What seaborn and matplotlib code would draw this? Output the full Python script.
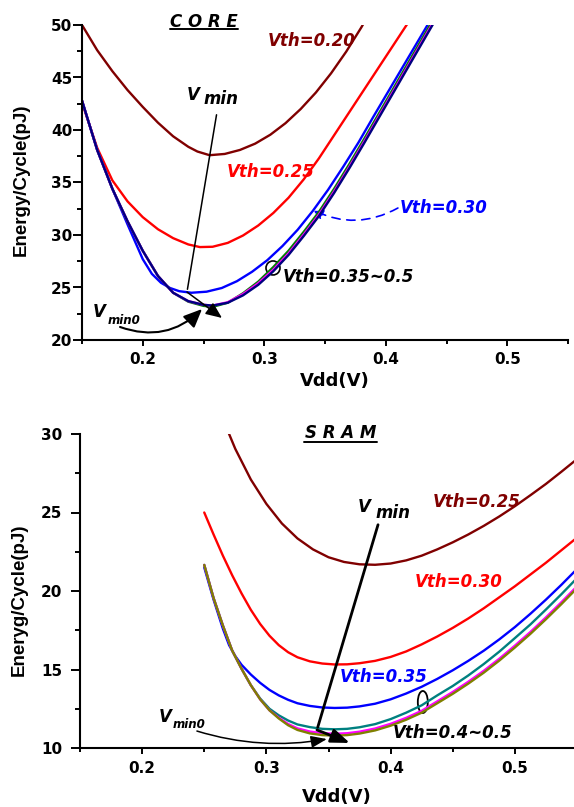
import pandas as pd
import matplotlib
matplotlib.use("Agg")
import matplotlib.pyplot as plt
import seaborn as sns
from matplotlib.patches import Ellipse, FancyArrowPatch
from matplotlib.lines import Line2D
from matplotlib.ticker import MultipleLocator, FormatStrFormatter

# ---------------- CORE: energy per cycle (pJ) vs supply voltage (V) ----------------
core_vdd_v20 = [0.150, 0.1625, 0.175, 0.1875, 0.200, 0.2125, 0.225, 0.2375, 0.245, 0.255,
                0.2675, 0.280, 0.2925, 0.305, 0.3175, 0.330, 0.3425, 0.355, 0.3675, 0.380,
                0.3925]
core_e_v20 = [50.0, 47.6, 45.6, 43.8, 42.2, 40.7, 39.4, 38.4, 37.95, 37.6,
              37.72, 38.1, 38.7, 39.55, 40.65, 42.0, 43.57, 45.4, 47.47, 49.79,
              52.35]

core_vdd_v25 = [0.150, 0.1625, 0.175, 0.1875, 0.200, 0.2125, 0.225, 0.2375, 0.247, 0.2575,
                0.270, 0.2825, 0.295, 0.3075, 0.320, 0.3325, 0.345, 0.3575, 0.370, 0.3825,
                0.395, 0.4075, 0.420]
core_e_v25 = [42.6, 38.3, 35.2, 33.2, 31.7, 30.55, 29.7, 29.1, 28.85, 28.88,
              29.25, 29.95, 30.9, 32.1, 33.55, 35.3, 37.3, 39.5, 41.7, 43.9,
              46.1, 48.3, 50.5]

core_vdd_v30 = [0.150, 0.1625, 0.175, 0.1875, 0.200, 0.2075, 0.215, 0.2225, 0.230, 0.240,
                0.2525, 0.265, 0.2775, 0.290, 0.3025, 0.315, 0.3275, 0.340, 0.3525, 0.365,
                0.3775, 0.390, 0.4025, 0.415, 0.4275, 0.440]
core_e_v30 = [42.8, 38.1, 34.4, 31.0, 27.7, 26.3, 25.45, 24.95, 24.65, 24.5,
              24.6, 24.95, 25.6, 26.5, 27.6, 28.95, 30.5, 32.3, 34.3, 36.5,
              38.8, 41.3, 43.75, 46.2, 48.65, 51.1]

core_vdd_hi = [0.150, 0.1625, 0.175, 0.1875, 0.200, 0.2125, 0.225, 0.2375, 0.250, 0.2575,
               0.270, 0.2825, 0.295, 0.3075, 0.320, 0.3325, 0.345, 0.3575, 0.370, 0.3825,
               0.395, 0.4075, 0.420, 0.4325, 0.445]
core_e_v35 = [42.8, 38.1, 34.4, 31.3, 28.5, 26.1, 24.5, 23.65, 23.25, 23.16,
              23.55, 24.45, 25.55, 26.95, 28.5, 30.3, 32.2, 34.4, 36.75, 39.2,
              41.7, 44.2, 46.7, 49.2, 51.7]
core_e_v40 = [42.8, 38.1, 34.4, 31.3, 28.5, 26.1, 24.5, 23.7, 23.35, 23.28,
              23.6, 24.38, 25.4, 26.7, 28.25, 30.05, 31.95, 34.15, 36.5, 38.95,
              41.45, 43.95, 46.45, 48.95, 51.45]
core_e_v50 = [42.8, 38.1, 34.4, 31.3, 28.5, 26.1, 24.5, 23.7, 23.35, 23.28,
              23.55, 24.25, 25.25, 26.55, 28.1, 29.9, 31.8, 34.0, 36.35, 38.8,
              41.3, 43.8, 46.3, 48.8, 51.3]

# ---------------- SRAM: energy per cycle (pJ) vs supply voltage (V) ----------------
sram_vdd_v25 = [0.265, 0.275, 0.2875, 0.300, 0.3125, 0.325, 0.3375, 0.350, 0.3625, 0.375,
                0.3875, 0.400, 0.4125, 0.425, 0.4375, 0.450, 0.4625, 0.475, 0.4875, 0.500,
                0.5125, 0.525, 0.5375, 0.550]
sram_e_v25 = [30.95, 29.05, 27.1, 25.55, 24.3, 23.35, 22.65, 22.15, 21.85, 21.7,
              21.67, 21.75, 21.95, 22.25, 22.65, 23.1, 23.6, 24.15, 24.75, 25.4,
              26.1, 26.82, 27.6, 28.4]

sram_vdd = [0.250, 0.2575, 0.265, 0.2725, 0.280, 0.2875, 0.295, 0.3025, 0.310, 0.3175,
            0.325, 0.335, 0.345, 0.355, 0.365, 0.375, 0.3875, 0.400, 0.4125, 0.425,
            0.4375, 0.450, 0.4625, 0.475, 0.4875, 0.500, 0.5125, 0.525, 0.5375, 0.550]
sram_e_v30 = [25.0, 23.6, 22.25, 21.0, 19.85, 18.8, 17.9, 17.15, 16.55, 16.1,
              15.78, 15.52, 15.38, 15.32, 15.33, 15.4, 15.55, 15.8, 16.15, 16.6,
              17.1, 17.65, 18.25, 18.9, 19.6, 20.3, 21.05, 21.8, 22.6, 23.4]
sram_e_v40 = [21.66, 19.55, 17.8, 16.2, 15.05, 14.0, 13.15, 12.5, 12.08, 11.75,
              11.5, 11.33, 11.22, 11.19, 11.22, 11.32, 11.52, 11.84, 12.25, 12.72,
              13.35, 13.95, 14.62, 15.35, 16.14, 17.0, 17.87, 18.82, 19.8, 20.82]
sram_e_v45 = [21.66, 19.55, 17.8, 16.2, 15.05, 14.0, 13.1, 12.4, 11.93, 11.53,
              11.25, 11.05, 10.94, 10.91, 10.94, 11.04, 11.24, 11.54, 11.92, 12.37,
              12.97, 13.57, 14.22, 14.92, 15.69, 16.52, 17.39, 18.32, 19.29, 20.3]
sram_e_v50 = [21.66, 19.55, 17.8, 16.2, 15.05, 14.0, 13.1, 12.4, 11.88, 11.45,
              11.15, 10.93, 10.82, 10.79, 10.82, 10.92, 11.12, 11.42, 11.8, 12.25,
              12.85, 13.45, 14.1, 14.8, 15.57, 16.4, 17.27, 18.2, 19.17, 20.18]

sram_vdd_v35 = [0.250, 0.2575, 0.265, 0.270, 0.275, 0.280, 0.2875, 0.295, 0.3025, 0.310,
                0.3175, 0.325, 0.335, 0.345, 0.355, 0.365, 0.375, 0.3875, 0.400, 0.4125,
                0.425, 0.4375, 0.450, 0.4625, 0.475, 0.4875, 0.500, 0.5125, 0.525, 0.5375,
                0.550]
sram_e_v35 = [21.5, 19.45, 17.6, 16.55, 15.85, 15.3, 14.68, 14.15, 13.7, 13.35,
              13.07, 12.85, 12.68, 12.58, 12.55, 12.57, 12.65, 12.82, 13.1, 13.47,
              13.9, 14.4, 14.95, 15.55, 16.2, 16.92, 17.7, 18.55, 19.45, 20.4,
              21.4]

core_series = {
    "0.20": (core_vdd_v20, core_e_v20),
    "0.25": (core_vdd_v25, core_e_v25),
    "0.30": (core_vdd_v30, core_e_v30),
    "0.35": (core_vdd_hi, core_e_v35),
    "0.40": (core_vdd_hi, core_e_v40),
    "0.50": (core_vdd_hi, core_e_v50),
}
core_colors = {"0.20": "#800000", "0.25": "#FF0000", "0.30": "#0000FF",
               "0.35": "#008000", "0.40": "#FF00FF", "0.50": "#000080"}

sram_series = {
    "0.25": (sram_vdd_v25, sram_e_v25),
    "0.30": (sram_vdd, sram_e_v30),
    "0.35": (sram_vdd_v35, sram_e_v35),
    "0.40": (sram_vdd, sram_e_v40),
    "0.45": (sram_vdd, sram_e_v45),
    "0.50": (sram_vdd, sram_e_v50),
}
sram_colors = {"0.25": "#800000", "0.30": "#FF0000", "0.35": "#0000FF",
               "0.40": "#008080", "0.45": "#FF00FF", "0.50": "#808000"}


def long_form(series):
    parts = [pd.DataFrame({"Vdd": x, "Energy": y, "Vth": name})
             for name, (x, y) in series.items()]
    return pd.concat(parts, ignore_index=True)


core_df = long_form(core_series)
sram_df = long_form(sram_series)

sns.set_style("ticks")
plt.rcParams["font.family"] = ["DejaVu Sans"]
plt.rcParams["font.weight"] = "bold"
plt.rcParams["axes.labelweight"] = "bold"
plt.rcParams["text.color"] = "black"
plt.rcParams["axes.labelcolor"] = "black"

W, H = 574, 807
fig = plt.figure(figsize=(W / 100, H / 100), dpi=100)
ax1 = fig.add_axes([82 / W, 1 - 340 / H, 486 / W, 315 / H])
ax2 = fig.add_axes([80 / W, 1 - 748 / H, 497 / W, 314 / H])

sns.lineplot(data=core_df, x="Vdd", y="Energy", hue="Vth", hue_order=list(core_series),
             palette=core_colors, estimator=None, sort=False, lw=1.7, legend=False, ax=ax1)
sns.lineplot(data=sram_df, x="Vdd", y="Energy", hue="Vth", hue_order=list(sram_series),
             palette=sram_colors, estimator=None, sort=False, lw=1.7, legend=False, ax=ax2)


def style_axis(ax, ylim, ymaj, ypad, xpad):
    ax.set_xlim(0.15, 0.55)
    ax.set_ylim(*ylim)
    ax.xaxis.set_major_locator(MultipleLocator(0.1))
    ax.xaxis.set_minor_locator(MultipleLocator(0.05))
    ax.xaxis.set_major_formatter(FormatStrFormatter("%.1f"))
    ax.yaxis.set_major_locator(MultipleLocator(ymaj))
    ax.yaxis.set_minor_locator(MultipleLocator(ymaj / 2))
    sns.despine(ax=ax)
    for side in ("left", "bottom"):
        ax.spines[side].set_linewidth(1.5)
        ax.spines[side].set_color("black")
    ax.tick_params(axis="y", which="major", length=6.5, width=1.4, pad=ypad,
                   labelsize=11, colors="black")
    ax.tick_params(axis="y", which="minor", length=3.6, width=1.4, colors="black")
    ax.tick_params(axis="x", which="major", length=4.3, width=1.4, pad=xpad,
                   labelsize=11, colors="black")
    ax.tick_params(axis="x", which="minor", length=2.8, width=1.4, colors="black")
    ax.grid(False)


style_axis(ax1, (20, 50), 5, 0.5, 4.3)
style_axis(ax2, (10, 30), 5, 6.5, 5.0)

ax1.set_xlabel("Vdd(V)", fontsize=13, fontweight="bold", color="black", va="center")
ax1.xaxis.set_label_coords((335 - 82) / 486, (340 - 381) / 315)
ax1.set_ylabel("Energy/Cycle(pJ)", fontsize=13.5, fontweight="bold", color="black",
               family="Liberation Sans", va="center")
ax1.yaxis.set_label_coords((21 - 82) / 486, (340 - 180) / 315)

ax2.set_xlabel("Vdd(V)", fontsize=13, fontweight="bold", color="black", va="center")
ax2.xaxis.set_label_coords((337 - 80) / 497, (748 - 797) / 314)
ax2.set_ylabel("Eneryg/Cycle(pJ)", fontsize=13.5, fontweight="bold", color="black",
               family="Liberation Sans", va="center")
ax2.yaxis.set_label_coords((19 - 80) / 497, (748 - 600) / 314)


def ftext(px, py, s, size=12, color="black"):
    fig.text(px / W, 1 - py / H, s, fontsize=size, color=color, fontstyle="italic",
             fontweight="bold", ha="left", va="baseline")


def fline(x0, x1, py):
    fig.add_artist(Line2D([x0 / W, x1 / W], [1 - py / H, 1 - py / H],
                          transform=fig.transFigure, color="black", lw=1.4))


# ---- CORE annotations ----
ftext(170, 26.7, "C O R E")
fline(170, 238, 29.3)
ftext(268, 46.5, "Vth=0.20", color="#800000")
ftext(227, 176.7, "Vth=0.25", color="#FF0000")
ftext(400, 213.3, "Vth=0.30", color="#0000FF")
ftext(283, 281.7, "Vth=0.35~0.5")
ftext(187, 100, "V")
ftext(203, 104.5, "min")
ftext(93, 316.7, "V")
ftext(108, 324.3, "min0", size=8.5)

ax1.annotate("", xy=(0.2364, 24.57), xytext=(0.2611, 41.71),
             arrowprops=dict(arrowstyle="-", color="black", lw=1.1))
ax1.annotate("", xy=(0.2652, 22.1), xytext=(0.2364, 24.57),
             arrowprops=dict(arrowstyle="-|>,head_length=0.7,head_width=0.3",
                             color="black", lw=1.1, mutation_scale=14,
                             shrinkA=0, shrinkB=0))
ax1.add_patch(FancyArrowPatch((0.1813, 21.24), (0.2488, 22.95),
                              connectionstyle="arc3,rad=0.31",
                              arrowstyle="-|>,head_length=0.8,head_width=0.35",
                              mutation_scale=14, color="black", lw=1.5,
                              shrinkA=0, shrinkB=0, clip_on=False))
ax1.add_patch(FancyArrowPatch((0.41, 32.57), (0.3401, 32.38),
                              connectionstyle="arc3,rad=-0.26",
                              arrowstyle="-|>,head_length=0.6,head_width=0.3",
                              mutation_scale=10, color="#0000FF", lw=1.2,
                              linestyle=(0, (5, 4)), shrinkA=0, shrinkB=0))
ax1.add_patch(Ellipse((0.3072, 26.86), width=14 / 1215, height=14 / 10.5,
                      fill=False, ec="black", lw=1.2))

# ---- SRAM annotations ----
ftext(305, 438.3, "S R A M")
fline(304, 377, 442.3)
ftext(433, 506.7, "Vth=0.25", color="#800000")
ftext(415, 586.7, "Vth=0.30", color="#FF0000")
ftext(340, 681.7, "Vth=0.35", color="#0000FF")
ftext(393, 738.3, "Vth=0.4~0.5")
ftext(358, 511.7, "V")
ftext(375, 518.3, "min")
ftext(159, 721.7, "V")
ftext(173, 728.3, "min0", size=8.5)

ax2.annotate("", xy=(0.3407, 11.15), xytext=(0.3905, 24.39),
             arrowprops=dict(arrowstyle="-", color="black", lw=2.0))
ax2.annotate("", xy=(0.3672, 10.32), xytext=(0.3407, 11.15),
             arrowprops=dict(arrowstyle="-|>,head_length=0.8,head_width=0.3",
                             color="black", lw=2.0, mutation_scale=14,
                             shrinkA=0, shrinkB=0))
ax2.add_patch(FancyArrowPatch((0.2441, 11.08), (0.3487, 10.57),
                              connectionstyle="arc3,rad=0.12",
                              arrowstyle="-|>,head_length=0.8,head_width=0.3",
                              mutation_scale=12, color="black", lw=1.1,
                              shrinkA=0, shrinkB=0))
ax2.add_patch(Ellipse((0.4259, 12.93), width=10 / 1243, height=22 / 15.7,
                      fill=False, ec="black", lw=1.3))

fig.savefig("out.png", dpi=100)
